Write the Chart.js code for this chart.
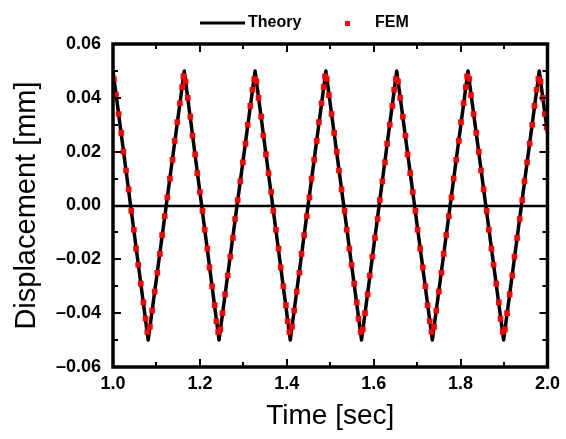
<!DOCTYPE html>
<html>
<head>
<meta charset="utf-8">
<script src="https://cdn.jsdelivr.net/npm/chart.js@4.4.0/dist/chart.umd.min.js"></script>
<style>
  html, body { margin: 0; padding: 0; background: #fff; }
  #wrap { width: 566px; height: 439px; }
</style>
</head>
<body>
<div id="wrap"><canvas id="plot" width="566" height="439"></canvas></div>
<script>
// Theory curve: peak / trough corners
const theoryTime = [1.000, 1.081, 1.164, 1.244, 1.327, 1.408, 1.490, 1.572, 1.653, 1.735, 1.817, 1.899, 1.981, 2.000];
const theoryDisp = [0.050, -0.050, 0.050, -0.050, 0.050, -0.050, 0.050, -0.050, 0.050, -0.050, 0.050, -0.050, 0.050, 0.027];

// FEM samples (red dots)
const femTime = [
  1.002, 1.007, 1.013, 1.019, 1.024, 1.030, 1.036, 1.042, 1.048, 1.053, 1.058, 1.064, 1.070, 1.075, 1.079,
  1.085, 1.090, 1.096, 1.102, 1.108, 1.113, 1.119, 1.125, 1.131, 1.137, 1.142, 1.148, 1.154, 1.159, 1.162,
  1.167, 1.172, 1.178, 1.183, 1.189, 1.194, 1.200, 1.206, 1.211, 1.217, 1.222, 1.228, 1.234, 1.238, 1.242,
  1.247, 1.252, 1.258, 1.264, 1.270, 1.276, 1.281, 1.287, 1.293, 1.299, 1.305, 1.310, 1.316, 1.321, 1.325,
  1.330, 1.335, 1.341, 1.346, 1.352, 1.358, 1.364, 1.369, 1.375, 1.381, 1.386, 1.392, 1.398, 1.402, 1.406,
  1.412, 1.417, 1.423, 1.429, 1.434, 1.440, 1.446, 1.452, 1.457, 1.463, 1.469, 1.474, 1.480, 1.485, 1.488,
  1.492, 1.497, 1.503, 1.509, 1.515, 1.520, 1.526, 1.533, 1.538, 1.544, 1.549, 1.555, 1.561, 1.565, 1.570,
  1.575, 1.580, 1.586, 1.591, 1.597, 1.603, 1.609, 1.614, 1.620, 1.626, 1.631, 1.637, 1.643, 1.647, 1.651,
  1.656, 1.661, 1.667, 1.673, 1.678, 1.684, 1.690, 1.696, 1.701, 1.707, 1.713, 1.719, 1.724, 1.729, 1.733,
  1.739, 1.744, 1.750, 1.756, 1.761, 1.767, 1.773, 1.779, 1.784, 1.790, 1.796, 1.801, 1.807, 1.812, 1.815,
  1.820, 1.824, 1.830, 1.836, 1.842, 1.847, 1.853, 1.860, 1.865, 1.871, 1.876, 1.882, 1.888, 1.892, 1.897,
  1.902, 1.907, 1.913, 1.919, 1.924, 1.930, 1.936, 1.942, 1.947, 1.953, 1.959, 1.965, 1.970, 1.975, 1.979,
  1.984, 1.989, 1.994, 1.998
];
const femDisp = [
  0.047, 0.041, 0.034, 0.027, 0.020, 0.013, 0.006, -0.002, -0.009, -0.016, -0.022, -0.029, -0.036, -0.042, -0.047,
  -0.045, -0.039, -0.032, -0.025, -0.018, -0.011, -0.004, 0.003, 0.010, 0.017, 0.024, 0.031, 0.038, 0.044, 0.048,
  0.046, 0.040, 0.033, 0.026, 0.019, 0.012, 0.005, -0.002, -0.009, -0.016, -0.023, -0.030, -0.037, -0.043, -0.047,
  -0.046, -0.040, -0.033, -0.026, -0.019, -0.012, -0.005, 0.002, 0.009, 0.016, 0.023, 0.030, 0.037, 0.043, 0.047,
  0.046, 0.040, 0.033, 0.026, 0.019, 0.012, 0.005, -0.002, -0.009, -0.016, -0.023, -0.030, -0.037, -0.043, -0.047,
  -0.045, -0.039, -0.032, -0.025, -0.018, -0.011, -0.004, 0.003, 0.010, 0.017, 0.024, 0.031, 0.038, 0.044, 0.048,
  0.047, 0.041, 0.034, 0.027, 0.020, 0.013, 0.006, -0.002, -0.009, -0.016, -0.022, -0.029, -0.036, -0.042, -0.047,
  -0.046, -0.040, -0.033, -0.026, -0.019, -0.012, -0.005, 0.002, 0.009, 0.016, 0.023, 0.030, 0.037, 0.043, 0.047,
  0.046, 0.040, 0.033, 0.026, 0.019, 0.012, 0.005, -0.002, -0.009, -0.016, -0.023, -0.030, -0.037, -0.043, -0.047,
  -0.045, -0.039, -0.032, -0.025, -0.018, -0.011, -0.004, 0.003, 0.010, 0.017, 0.024, 0.031, 0.038, 0.044, 0.048,
  0.047, 0.041, 0.034, 0.027, 0.020, 0.013, 0.006, -0.002, -0.009, -0.016, -0.022, -0.029, -0.036, -0.042, -0.047,
  -0.046, -0.040, -0.033, -0.026, -0.019, -0.012, -0.005, 0.002, 0.009, 0.016, 0.023, 0.030, 0.037, 0.043, 0.047,
  0.046, 0.040, 0.034, 0.029
];

const xTickValues = [1.0, 1.2, 1.4, 1.6, 1.8, 2.0];
const xTickLabels = ['1.0', '1.2', '1.4', '1.6', '1.8', '2.0'];
const xMinorTicks = [1.1, 1.3, 1.5, 1.7, 1.9];
const yTickValues = [-0.06, -0.04, -0.02, 0.00, 0.02, 0.04, 0.06];
const yTickLabels = ['\u20130.06', '\u20130.04', '\u20130.02', '0.00', '0.02', '0.04', '0.06'];
const yMinorTicks = [-0.05, -0.03, -0.01, 0.01, 0.03, 0.05];

const seriesNames = ['Theory', 'FEM'];

const FONT = '"Liberation Sans", Arial, sans-serif';

// zero line under the data
const zeroLine = {
  id: 'zeroLine',
  beforeDatasetsDraw(chart) {
    const { ctx, chartArea: a, scales: { y } } = chart;
    const y0 = Math.round(y.getPixelForValue(0));
    ctx.save();
    ctx.strokeStyle = '#000';
    ctx.lineWidth = 2.5;
    ctx.beginPath();
    ctx.moveTo(a.left, y0);
    ctx.lineTo(a.right, y0);
    ctx.stroke();
    ctx.restore();
  }
};

// thick frame with inward ticks on all four sides
const frameTicks = {
  id: 'frameTicks',
  afterDatasetsDraw(chart) {
    const { ctx, chartArea: a, scales: { x, y } } = chart;
    ctx.save();
    ctx.strokeStyle = '#000';
    ctx.lineWidth = 2;
    ctx.beginPath();
    const vTick = (v, len) => {
      const px = Math.round(x.getPixelForValue(v));
      ctx.moveTo(px, a.top); ctx.lineTo(px, a.top + len);
      ctx.moveTo(px, a.bottom); ctx.lineTo(px, a.bottom - len);
    };
    const hTick = (v, len) => {
      const py = Math.round(y.getPixelForValue(v));
      ctx.moveTo(a.left, py); ctx.lineTo(a.left + len, py);
      ctx.moveTo(a.right, py); ctx.lineTo(a.right - len, py);
    };
    xTickValues.forEach(v => vTick(v, 8));
    xMinorTicks.forEach(v => vTick(v, 5));
    yTickValues.forEach(v => hTick(v, 8));
    yMinorTicks.forEach(v => hTick(v, 5));
    ctx.stroke();
    ctx.lineWidth = 3.5;
    ctx.strokeRect(a.left, a.top, a.right - a.left, a.bottom - a.top);
    ctx.restore();
  }
};

// legend at the top: line sample + text, red dot + text
const topLegend = {
  id: 'topLegend',
  afterDraw(chart) {
    const { ctx } = chart;
    const ly = 23;
    ctx.save();
    ctx.strokeStyle = '#000';
    ctx.lineWidth = 3;
    ctx.beginPath();
    ctx.moveTo(200, ly);
    ctx.lineTo(245, ly);
    ctx.stroke();
    ctx.fillStyle = '#ff0000';
    ctx.fillRect(345, ly - 2, 5, 5);
    ctx.fillStyle = '#000';
    ctx.font = 'bold 16px ' + FONT;
    ctx.textBaseline = 'middle';
    ctx.textAlign = 'left';
    ctx.fillText(seriesNames[0], 248, ly);
    ctx.fillText(seriesNames[1], 375, ly);
    ctx.restore();
  }
};

new Chart(document.getElementById('plot'), {
  type: 'scatter',
  data: {
    datasets: [
      {
        label: seriesNames[1],
        data: femTime.map((t, i) => ({ x: t, y: femDisp[i] })),
        showLine: false,
        pointStyle: 'rect',
        pointRadius: 4,
        pointBackgroundColor: '#ff0000',
        pointBorderWidth: 0,
        order: 0
      },
      {
        label: seriesNames[0],
        data: theoryTime.map((t, i) => ({ x: t, y: theoryDisp[i] })),
        showLine: true,
        borderColor: '#000',
        borderWidth: 3.5,
        borderJoinStyle: 'round',
        pointRadius: 0,
        tension: 0,
        order: 1
      }
    ]
  },
  options: {
    responsive: false,
    animation: false,
    devicePixelRatio: 1,
    layout: { padding: { left: 0, top: 44, right: 14, bottom: 0 } },
    plugins: {
      legend: { display: false },
      tooltip: { enabled: false }
    },
    scales: {
      x: {
        type: 'linear',
        min: 1.0,
        max: 2.0,
        grid: { display: false, drawTicks: false },
        border: { display: false },
        afterBuildTicks: s => { s.ticks = xTickValues.map(v => ({ value: v })); },
        afterFit: s => { s.height = 72; },
        ticks: {
          padding: 6,
          color: '#000',
          font: { family: FONT, size: 18, weight: 'bold' },
          callback: (v, i) => xTickLabels[i]
        },
        title: {
          display: true,
          text: 'Time [sec]',
          color: '#000',
          font: { family: FONT, size: 28 },
          padding: { top: 0, bottom: 6 }
        }
      },
      y: {
        type: 'linear',
        min: -0.06,
        max: 0.06,
        grid: { display: false, drawTicks: false },
        border: { display: false },
        afterBuildTicks: s => { s.ticks = yTickValues.map(v => ({ value: v })); },
        afterFit: s => { s.width = 113; },
        ticks: {
          padding: 12,
          color: '#000',
          font: { family: FONT, size: 18, weight: 'bold' },
          callback: (v, i) => yTickLabels[i]
        },
        title: {
          display: true,
          text: 'Displacement [mm]',
          color: '#000',
          font: { family: FONT, size: 29 },
          padding: { top: 10, bottom: 0 }
        }
      }
    }
  },
  plugins: [zeroLine, frameTicks, topLegend]
});
</script>
</body>
</html>
